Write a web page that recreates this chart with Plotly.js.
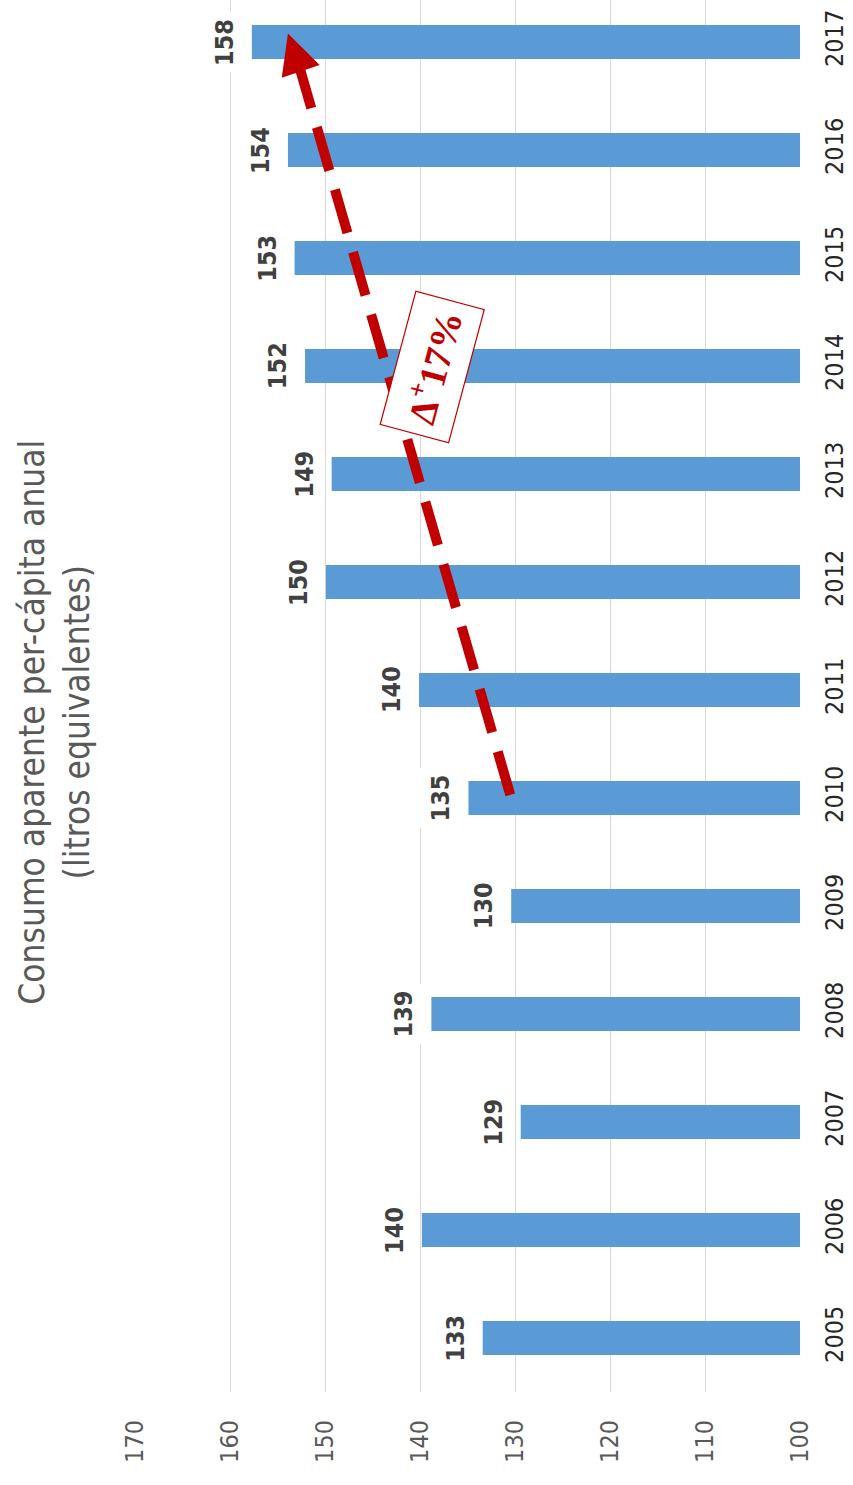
<!DOCTYPE html>
<html>
<head>
<meta charset="utf-8">
<script src="https://cdn.plot.ly/plotly-3.0.1.min.js"></script>
<style>
html,body{margin:0;padding:0;background:#fff;}
#chart{width:853px;height:1485px;}
</style>
</head>
<body>
<div id="chart"></div>
<script>
const years = [2005, 2006, 2007, 2008, 2009, 2010, 2011, 2012, 2013, 2014, 2015, 2016, 2017];
const consumo = [133.4, 139.8, 129.4, 138.8, 130.4, 134.9, 140.1, 149.9, 149.3, 152.1, 153.2, 153.9, 157.7];
const labels = ['133', '140', '129', '139', '130', '135', '140', '150', '149', '152', '153', '154', '158'];
const valueTicks = [100, 110, 120, 130, 140, 150, 160, 170];
const titleText = 'Consumo aparente per-cápita anual<br>(litros equivalentes)';
const changeText = 'Δ<sup>+</sup>17%';
const trendStart = [130.5, 2010.03];
const trendEnd = [153.9, 2017.08];

const FONT = '"Liberation Sans Narrow", "DejaVu Sans Condensed", "Roboto", sans-serif';

const trace = {
  type: 'bar',
  orientation: 'h',
  y: years,
  x: consumo,
  marker: {color: '#5B9BD5'},
  hoverinfo: 'skip'
};

const annotations = years.map((yr, i) => ({
  x: consumo[i], y: yr, xref: 'x', yref: 'y',
  text: labels[i], showarrow: false,
  textangle: -90, xanchor: 'center', yanchor: 'middle',
  xshift: -28,
  bgcolor: '#ffffff', borderpad: 6,
  font: {family: FONT, size: 25, color: '#404040', weight: 'bold'}
}));

// chart title
annotations.push({
  xref: 'paper', yref: 'paper', x: -0.12, y: 0.481,
  text: titleText, showarrow: false, textangle: -90,
  xanchor: 'center', yanchor: 'middle',
  font: {family: FONT, size: 35, color: '#595959'}
});

// arrow head
const lineEnd = [152.6, 2016.74];
annotations.push({
  x: trendEnd[0], y: trendEnd[1], xref: 'x', yref: 'y',
  ax: lineEnd[0], ay: lineEnd[1], axref: 'x', ayref: 'y',
  text: '', showarrow: true, arrowhead: 2, arrowsize: 0.8,
  arrowwidth: 10, arrowcolor: '#C00000'
});

// change box
annotations.push({
  x: 138.7, y: 2013.99, xref: 'x', yref: 'y',
  text: changeText, showarrow: false, textangle: -75,
  xanchor: 'center', yanchor: 'middle',
  bgcolor: '#ffffff', bordercolor: '#C00000', borderwidth: 1.2, borderpad: 11,
  font: {family: '"Liberation Serif", "DejaVu Serif", serif', size: 38, color: '#C00000', weight: 'bold'}
});

const layout = {
  width: 853, height: 1485,
  margin: {l: 135, r: 53, t: 0, b: 93},
  paper_bgcolor: '#ffffff', plot_bgcolor: '#ffffff',
  showlegend: false,
  bargap: 0.685,
  font: {family: FONT},
  xaxis: {
    range: [170, 100],
    tickvals: valueTicks,
    ticktext: valueTicks.map(String),
    tickangle: -90,
    showgrid: true, gridcolor: '#d9d9d9', gridwidth: 1,
    zeroline: false, showline: false, ticks: '',
    tickfont: {family: FONT, size: 25, color: '#595959'},
    ticklabelstandoff: 22
  },
  yaxis: {
    range: [2004.5, 2017.39],
    side: 'right',
    tickvals: years,
    ticktext: years.map(String),
    tickangle: -90,
    showgrid: false, zeroline: false, showline: false, ticks: '',
    tickfont: {family: FONT, size: 25, color: '#262626'},
    ticklabelstandoff: 17
  },
  shapes: [{
    type: 'line', xref: 'x', yref: 'y',
    x0: trendStart[0], y0: trendStart[1], x1: lineEnd[0], y1: lineEnd[1],
    line: {color: '#C00000', width: 10, dash: '45px,20px'}
  }],
  annotations: annotations
};

Plotly.newPlot('chart', [trace], layout, {displayModeBar: false, staticPlot: true});
</script>
</body>
</html>
